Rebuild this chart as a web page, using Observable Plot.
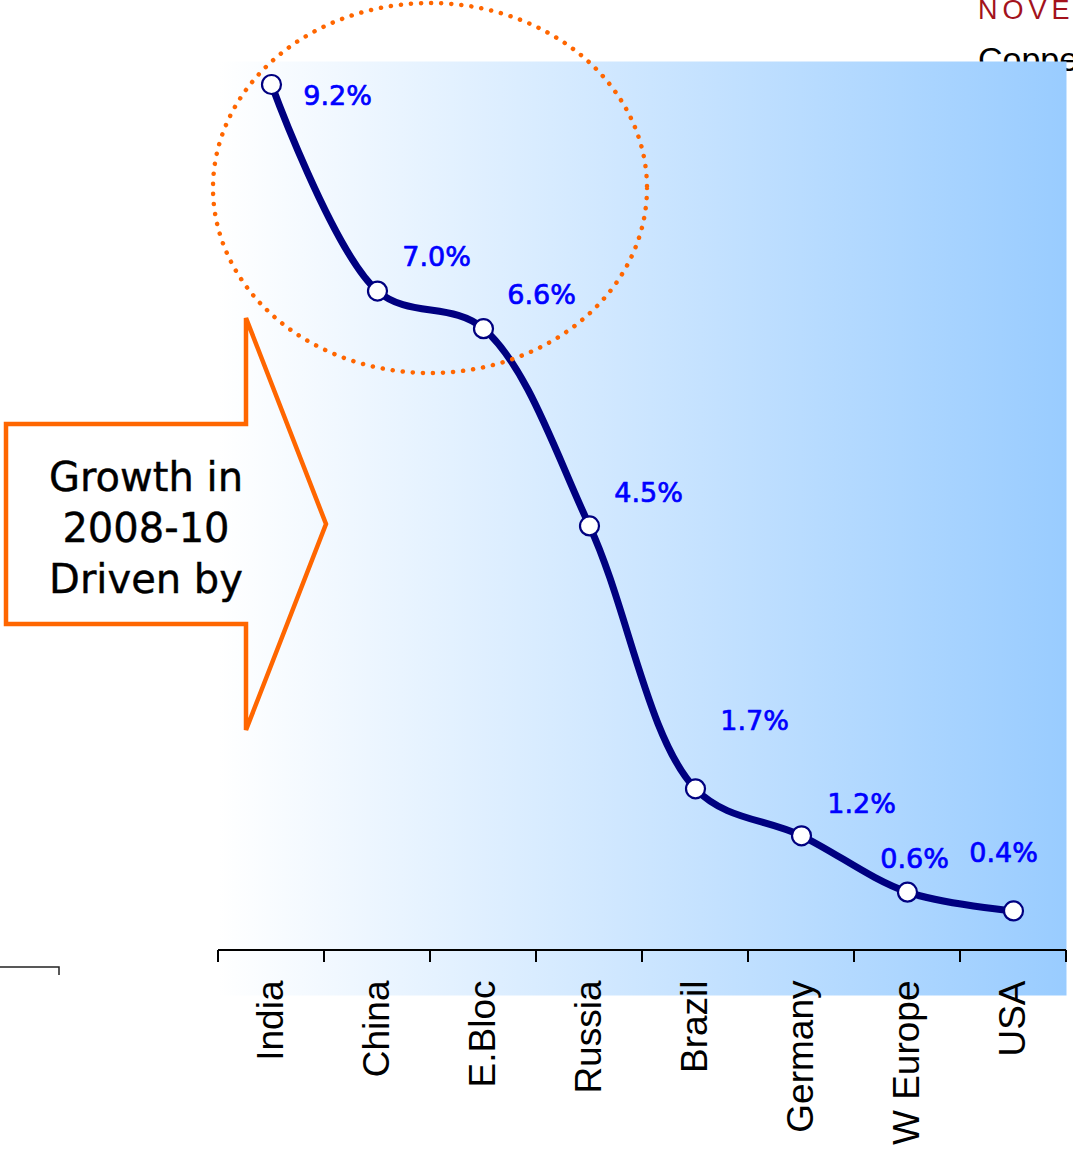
<!DOCTYPE html>
<html>
<head>
<meta charset="utf-8">
<script src="https://cdn.jsdelivr.net/npm/d3@7"></script>
<script src="https://cdn.jsdelivr.net/npm/@observablehq/plot@0.6"></script>
<style>
  html, body { margin: 0; padding: 0; background: #fff; }
  #wrap { position: relative; width: 1073px; height: 1149px; overflow: hidden; }
  #wrap > svg { position: absolute; left: 0; top: 0; }
</style>
</head>
<body>
<div id="wrap"></div>
<script>
// ---- data ----
const countries = ["India", "China", "E.Bloc", "Russia", "Brazil", "Germany", "W Europe", "USA"];
const growth = [9.2, 7.0, 6.6, 4.5, 1.7, 1.2, 0.6, 0.4];
const growthLabels = ["9.2%", "7.0%", "6.6%", "4.5%", "1.7%", "1.2%", "0.6%", "0.4%"];
const calloutLines = ["Growth in", "2008-10", "Driven by"];
const headerText = "NOVE";
const sideText = "Copper";

// ---- layout (label nudges in px, not data) ----
const labelNudges = [[66, 12], [59, -34], [58, -33], [59, -33], [59, -67], [60, -31], [7, -33], [-10, -58]];

const W = 1073, H = 1149;
const data = countries.map((c, i) => ({country: c, i, value: growth[i], label: growthLabels[i]}));
const wrap = document.getElementById("wrap");

// back layer: header fragments behind the chart
const back = d3.create("svg").attr("width", W).attr("height", H);
back.append("text").attr("x", 978).attr("y", 19).attr("fill", "#a3121c")
  .attr("font-family", "Liberation Sans, Arial, sans-serif").attr("font-size", 27)
  .attr("letter-spacing", 5).text(headerText);
back.append("text").attr("x", 978).attr("y", 71).attr("fill", "#000")
  .attr("font-family", "Liberation Sans, Arial, sans-serif").attr("font-size", 34)
  .text(sideText);
back.append("path").attr("d", "M0,967H59V975").attr("fill", "none").attr("stroke", "#222").attr("stroke-width", 1.5);
wrap.appendChild(back.node());

// chart
const bgDefs = () => {
  const g = d3.create("svg:defs");
  const lg = g.append("linearGradient").attr("id", "bgGrad")
    .attr("x1", "0").attr("x2", "1").attr("y1", "0").attr("y2", "0");
  lg.append("stop").attr("offset", "0").attr("stop-color", "#ffffff");
  lg.append("stop").attr("offset", "1").attr("stop-color", "#99ccff");
  return g.node();
};

const axisMark = (index, scales) => {
  const {x, y} = scales;
  const g = d3.create("svg:g").attr("stroke", "#000").attr("stroke-width", 2);
  const y0 = y(0) + 2;
  const bounds = d3.range(countries.length + 1).map(k => k - 0.5);
  g.append("line").attr("x1", x(bounds[0])).attr("x2", x(bounds[bounds.length - 1]))
    .attr("y1", y0).attr("y2", y0);
  g.selectAll(null).data(bounds).join("line")
    .attr("x1", d => x(d)).attr("x2", d => x(d))
    .attr("y1", y0).attr("y2", y0 + 12);
  return g.node();
};

const labelMarks = data.map((d, i) => Plot.text([d], {
  x: "i", y: "value", text: "label",
  dx: labelNudges[i][0], dy: labelNudges[i][1],
  fill: "#0000ff", stroke: "#0000ff", strokeWidth: 0.7,
  fontSize: 27, fontFamily: "DejaVu Sans, Verdana, sans-serif"
}));

const chart = Plot.plot({
  width: W, height: H,
  marginLeft: 218, marginRight: 7, marginTop: 61, marginBottom: 154,
  x: {domain: [-0.5, countries.length - 0.5], axis: null},
  y: {domain: [0, 9.2], range: [948, 84], axis: null},
  style: {background: "transparent", overflow: "visible"},
  marks: [
    bgDefs,
    Plot.frame({fill: "url(#bgGrad)", stroke: "none"}),
    axisMark,
    Plot.text(data, {
      x: "i", y: 0, text: "country", rotate: -90, textAnchor: "end", lineAnchor: "middle",
      dy: 32, fontSize: 37, fill: "#000", fontFamily: "Liberation Sans, Arial, sans-serif"
    }),
    Plot.line(data, {x: "i", y: "value", curve: "catmull-rom", stroke: "#000080", strokeWidth: 7, strokeLinejoin: "round"}),
    Plot.dot(data, {x: "i", y: "value", r: 9.5, fill: "#fff", stroke: "#000080", strokeWidth: 2.2}),
    ...labelMarks
  ]
});
chart.style.position = "absolute";
chart.style.left = "0px";
chart.style.top = "0px";
wrap.appendChild(chart);

// front layer: annotations
const front = d3.create("svg").attr("width", W).attr("height", H);
front.append("ellipse").attr("cx", 430).attr("cy", 188).attr("rx", 217).attr("ry", 185)
  .attr("fill", "none").attr("stroke", "#ff6600").attr("stroke-width", 4.5)
  .attr("stroke-linecap", "round").attr("stroke-dasharray", "0.1 10");
front.append("path")
  .attr("d", "M6,424H246V318L326,524L246,730V624H6Z")
  .attr("fill", "none").attr("stroke", "#ff6600").attr("stroke-width", 4.5)
  .attr("stroke-linejoin", "miter");
const ct = front.append("text").attr("font-family", "DejaVu Sans, Verdana, sans-serif")
  .attr("font-size", 40).attr("fill", "#000").attr("stroke", "#000").attr("stroke-width", 0.4)
  .attr("text-anchor", "middle");
calloutLines.forEach((t, k) => ct.append("tspan").attr("x", 146).attr("y", 491 + k * 51).text(t));
wrap.appendChild(front.node());
</script>
</body>
</html>
